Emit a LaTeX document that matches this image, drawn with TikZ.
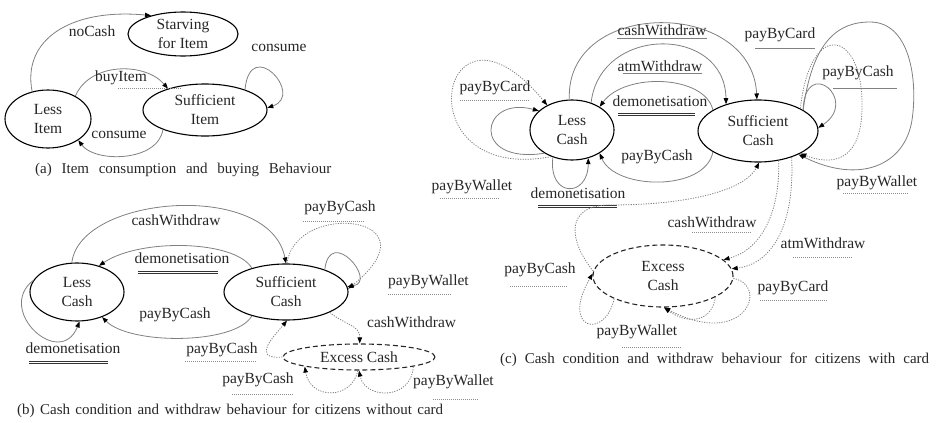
\documentclass[tikz,border=0pt]{standalone}
\usepackage{fontspec}
\setmainfont{Liberation Serif}
\usetikzlibrary{shapes.geometric,arrows.meta}
\begin{document}
\begin{tikzpicture}[x=1pt,y=-1pt,
  st/.style={ellipse,draw=black,line width=1.1pt,inner xsep=-8pt,inner ysep=-6pt,align=center,font=\fontsize{15.5}{19}\selectfont,text=black!85},
  exst/.style={st,dash pattern=on 5pt off 3pt,draw=black!85},
  lbl/.style={font=\fontsize{15.5}{18}\selectfont,text=black!85,inner sep=0pt},
  captxt/.style={font=\fontsize{15}{17}\selectfont,text=black!85,inner sep=0pt,anchor=west},
  sedge/.style={draw=black!50,line width=0.8pt,-{Triangle[length=6pt,width=4.5pt,color=black]}},
  dedge/.style={sedge,dash pattern=on 1.2pt off 1.3pt},
  dul/.style={draw=black!45,line width=0.6pt,dash pattern=on 1pt off 1pt},
  sul/.style={draw=black!50,line width=1pt},
  wul/.style={draw=black!80,line width=0.7pt,double=white,double distance=1.2pt},
]
\useasboundingbox (0,0) rectangle (940,423);
% ---------- panel (a)
\node[st,minimum width=86pt,minimum height=58pt] (li) at (48,119) {Less\\Item};
\node[st,minimum width=110pt,minimum height=44pt] (sti) at (183,34) {Starving\\for Item};
\node[st,minimum width=124pt,minimum height=52pt] (sui) at (205,110) {Sufficient\\Item};
\draw[sedge] (li.120) .. controls (22,40) and (70,8) .. (sti.150);
\node[lbl] (lnc) at (92,31) {noCash};
\draw[sedge] (li.40) .. controls (90,62) and (145,62) .. (sui.150);
\node[lbl] (lbi) at (121,78) {buyItem};
\draw[dul] (118,88) -- (182,88);
\draw[sedge] (sui.205) .. controls (158,162) and (95,163) .. (li.-35);
\node[lbl] (lco1) at (119,135) {consume};
\draw[sedge] (sui.27) .. controls (250,35) and (305,95) .. (sui.2);
\node[lbl] (lco2) at (279,48) {consume};
\node[captxt] (capa) at (35,170) {\spaceskip=0.65em plus 0.1em\relax (a) Item consumption and buying Behaviour};
% ---------- panel (b)
\node[st,minimum width=94pt,minimum height=58pt] (lcb) at (77,292) {Less\\Cash};
\node[st,minimum width=124pt,minimum height=56pt] (scb) at (286,292) {Sufficient\\Cash};
\node[exst,minimum width=152pt,minimum height=26pt] (ecb) at (359,357) {Excess Cash};
\draw[sedge] (lcb.100) .. controls (80,195) and (270,180) .. (scb.north);
\node[lbl] (b1) at (176,220) {cashWithdraw};
\draw[sedge] (scb.145) .. controls (235,240) and (140,238) .. (lcb.50);
\node[lbl] (b2) at (182,258) {demonetisation};
\draw[wul] (138,272.5) -- (218,272.5);
\draw[sedge] (scb.215) .. controls (235,345) and (130,345) .. (lcb.-45);
\node[lbl] (b3) at (175,315) {payByCash};
\draw[sedge] (lcb.165) .. controls (-5,310) and (60,370) .. (lcb.-85);
\node[lbl] (b4) at (73,348) {demonetisation};
\draw[wul] (29,362.5) -- (108,362.5);
\draw[sedge] (scb.30) .. controls (330,225) and (378,282) .. (scb.5);
\node[lbl,anchor=west] (b5) at (388,282) {payByWallet};
\draw[dul] (388,294) -- (452,294);
\draw[dedge] (scb.88) .. controls (295,200) and (440,215) .. (scb.3);
\node[lbl] (b6) at (340,208) {payByCash};
\draw[dul] (303,221) -- (365,221);
\draw[dedge] (scb.-25) .. controls (345,325) and (360,325) .. (ecb.87);
\node[lbl,anchor=west] (b7) at (367,322) {cashWithdraw};
\draw[dedge] (ecb.180) .. controls (250,360) and (275,335) .. (scb.-88);
\node[lbl] (b8) at (222,350) {payByCash};
\draw[dul] (185,361) -- (257,361);
\draw[dedge] (ecb.265) .. controls (352,400) and (310,400) .. (ecb.190);
\draw[dedge] (ecb.-10) .. controls (412,400) and (365,400) .. (ecb.270);
\node[lbl] (b9) at (258,380) {payByCash};
\draw[dul] (232,394) -- (293,394);
\node[lbl,anchor=west] (b10) at (413,382) {payByWallet};
\draw[dul] (433,399) -- (478,399);
\node[captxt] (capb) at (17,411) {\spaceskip=0.36em plus 0.1em\relax (b) Cash condition and withdraw behaviour for citizens without card};
% ---------- panel (c)
\node[st,minimum width=84pt,minimum height=60pt] (lcc) at (572,130) {Less\\Cash};
\node[st,minimum width=120pt,minimum height=62pt] (scc) at (758,131) {Sufficient\\Cash};
\node[exst,minimum width=140pt,minimum height=62pt] (ecc) at (663,276) {Excess\\Cash};
\draw[sedge] (lcc.95) .. controls (565,-2) and (752,-2) .. (scc.92);
\node[lbl] (c1) at (662,30) {cashWithdraw};
\draw[sul] (617,38.5) -- (707,38.5);
\draw[sedge] (lcc.55) .. controls (600,25) and (725,25) .. (scc.140);
\node[lbl] (c2) at (660,66) {atmWithdraw};
\draw[sul] (623,73.5) -- (702,73.5);
\draw[sedge] (scc.155) .. controls (705,75) and (625,72) .. (lcc.40);
\node[lbl] (c3) at (660,101) {demonetisation};
\draw[wul] (618,114.5) -- (695,114.5);
\draw[sedge] (scc.205) .. controls (705,192) and (615,190) .. (lcc.-40);
\node[lbl] (c4) at (657,157) {payByCash};
\draw[sedge] (lcc.220) .. controls (470,165) and (480,95) .. (lcc.150);
\node[lbl] (c5) at (495,88) {payByCard};
\draw[dul] (460,100) -- (530,100);
\draw[dedge] (lcc.232) .. controls (400,185) and (440,-25) .. (lcc.135);
\node[lbl] (c6) at (472,187) {payByWallet};
\draw[dul] (440,198) -- (500,198);
\draw[sedge] (lcc.235) .. controls (548,198) and (588,198) .. (lcc.-60);
\node[lbl] (c7) at (578,193) {demonetisation};
\draw[wul] (538,206.5) -- (617,206.5);
\draw[sedge] (scc.25) .. controls (805,55) and (860,100) .. (scc.3);
\node[lbl] (c8) at (858,73) {payByCash};
\draw[sul] (833,88) -- (897,88);
\draw[sedge] (scc.25) .. controls (812,45) and (835,22) .. (870,22) .. controls (910,22) and (918,80) .. (912,120) .. controls (905,165) and (860,185) .. (scc.-30);
\node[lbl] (c9) at (877,183) {payByWallet};
\draw[dul] (843,193) -- (908,193);
\draw[dedge] (scc.28) .. controls (810,20) and (860,30) .. (862,100) .. controls (864,165) and (830,165) .. (scc.-28);
\node[lbl] (c10) at (780,35) {payByCard};
\draw[sul] (755,48) -- (815,48);
\draw[dedge] (ecc.176) .. controls (568,240) and (565,205) .. (610,205) .. controls (690,205) and (745,190) .. (scc.-88);
\node[lbl] (c11) at (540,270) {payByCash};
\draw[dul] (510,286) -- (567,286);
\draw[dedge] (scc.-55) .. controls (780,215) and (760,250) .. (ecc.15);
\node[lbl] (c12) at (712,222) {cashWithdraw};
\draw[dul] (692,232) -- (752,232);
\draw[dedge] (scc.-38) .. controls (795,225) and (772,264) .. (ecc.6);
\node[lbl] (c13) at (823,243) {atmWithdraw};
\draw[dul] (793,257) -- (853,257);
\draw[dedge] (ecc.-2) .. controls (770,285) and (745,350) .. (ecc.-88);
\draw[dedge] (ecc.-22) .. controls (712,322) and (688,325) .. (ecc.-88);
\node[lbl] (c14) at (793,288) {payByCard};
\draw[dul] (760,300) -- (828,300);
\draw[dedge] (ecc.205) .. controls (605,340) and (560,330) .. (ecc.178);
\node[lbl] (c15) at (637,332) {payByWallet};
\draw[dul] (622,347) -- (682,347);
\node[captxt] (capc) at (500,360) {\spaceskip=0.53em plus 0.1em\relax (c) Cash condition and withdraw behaviour for citizens with card};
\end{tikzpicture}
\end{document}
